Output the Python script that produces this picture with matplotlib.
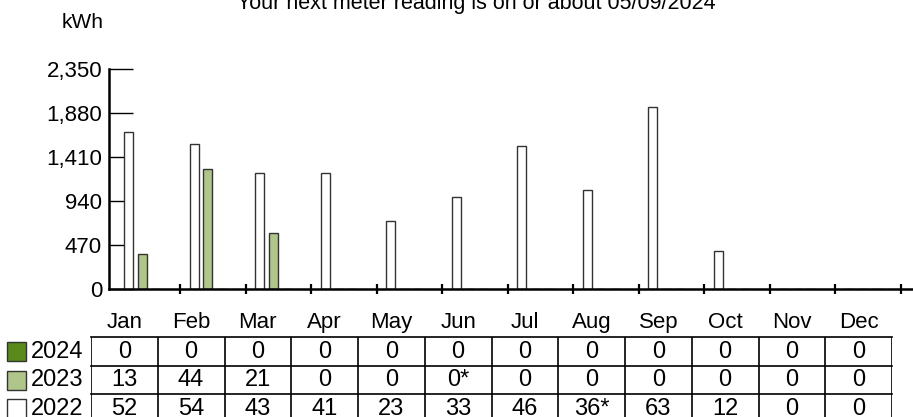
import matplotlib
matplotlib.use("Agg")
import matplotlib.pyplot as plt
from matplotlib.patches import Rectangle
import numpy as np

# data
months = ["Jan", "Feb", "Mar", "Apr", "May", "Jun", "Jul", "Aug", "Sep", "Oct", "Nov", "Dec"]
kwh_2022 = [1677, 1552, 1245, 1240, 728, 983, 1530, 1058, 1950, 406, 0, 0]
kwh_2023 = [380, 1282, 598, 0, 0, 0, 0, 0, 0, 0, 0, 0]
kwh_2024 = [0, 0, 0, 0, 0, 0, 0, 0, 0, 0, 0, 0]
table_2024 = ["0", "0", "0", "0", "0", "0", "0", "0", "0", "0", "0", "0"]
table_2023 = ["13", "44", "21", "0", "0", "0*", "0", "0", "0", "0", "0", "0"]
table_2022 = ["52", "54", "43", "41", "23", "33", "46", "36*", "63", "12", "0", "0"]
years = ["2024", "2023", "2022"]
yticks = [0, 470, 940, 1410, 1880, 2350]
title = "Your next meter reading is on or about 05/09/2024"

c2022 = "#ffffff"
c2023 = "#b0c58a"
c2024 = "#5b8a1c"

W, H = 913, 417
regular = ["Liberation Sans", "DejaVu Sans"]
narrow = ["Liberation Sans Narrow", "Liberation Sans", "DejaVu Sans"]


def fx(px):
    return px / W


def fy(py):
    return 1 - py / H


fig = plt.figure(figsize=(W / 100, H / 100), dpi=100)

# main bar axes
ax = fig.add_axes([fx(109), fy(289.3), (913 - 109) / W, (289.3 - 69.3) / H])
slot0 = 114.5
slot = 65.5
ax.set_xlim((109 - slot0) / slot, (913 - slot0) / slot)
ax.set_ylim(0, 2350)

x = np.arange(12)
bw = 9.3 / slot
ax.bar(x + 14.25 / slot, kwh_2022, width=bw, color=c2022, edgecolor="#333333", linewidth=1, zorder=2)
ax.bar(x + 27.75 / slot, kwh_2023, width=bw, color=c2023, edgecolor="#333333", linewidth=1, zorder=2)
ax.bar(x + 41.25 / slot, kwh_2024, width=bw, color=c2024, edgecolor="#333333", linewidth=1, zorder=2)

for s in ["top", "right"]:
    ax.spines[s].set_visible(False)
ax.spines["left"].set_linewidth(1.8)
ax.spines["bottom"].set_linewidth(1.8)
ax.spines["left"].set_zorder(3)
ax.spines["bottom"].set_zorder(3)

ax.set_yticks(yticks)
ax.set_yticklabels([f"{v:,}" for v in yticks], family=regular, fontsize=16)
ax.tick_params(axis="y", direction="in", length=17, width=1, pad=5)
ax.set_xticks(np.arange(1, 13))
ax.set_xticklabels([])
ax.tick_params(axis="x", direction="inout", length=7, width=1.6)

fig.text(fx(62), fy(22), "kWh", family=regular, fontsize=15, ha="left", va="center")
fig.text(fx(476), fy(4), title, family=narrow, fontsize=15.5, ha="center", va="center")

# table below
row_h = 28.5
top = 337.3
tab = fig.add_axes([fx(91), 0, (892 - 91) / W, (H - top) / H])
tab.set_xlim(0, 12)
tab.set_ylim((H - top) / row_h, 0)
tab.axis("off")

for r in range(4):
    tab.plot([0, 12], [r, r], color="black", lw=1.2, clip_on=False)
for c in range(13):
    tab.plot([c, c], [0, 3], color="black", lw=1.2)

for c, m in enumerate(months):
    tab.text(c + 0.5, -0.52, m, family=regular, fontsize=16, ha="center", va="center")

rows = [table_2024, table_2023, table_2022]
for r, vals in enumerate(rows):
    for c, v in enumerate(vals):
        tab.text(c + 0.5, r + 0.5, v, family=narrow, fontsize=17, ha="center", va="center")

# legend squares with years
for r, (yr, col) in enumerate(zip(years, [c2024, c2023, c2022])):
    yc = top + row_h * r + row_h / 2
    fig.add_artist(Rectangle((fx(7), fy(yc + 9.5)), 19 / W, 19 / H, transform=fig.transFigure,
                             facecolor=col, edgecolor="#333333", linewidth=1))
    fig.text(fx(31), fy(yc), yr, family=narrow, fontsize=17, ha="left", va="center")

fig.savefig("out.png", dpi=100)
